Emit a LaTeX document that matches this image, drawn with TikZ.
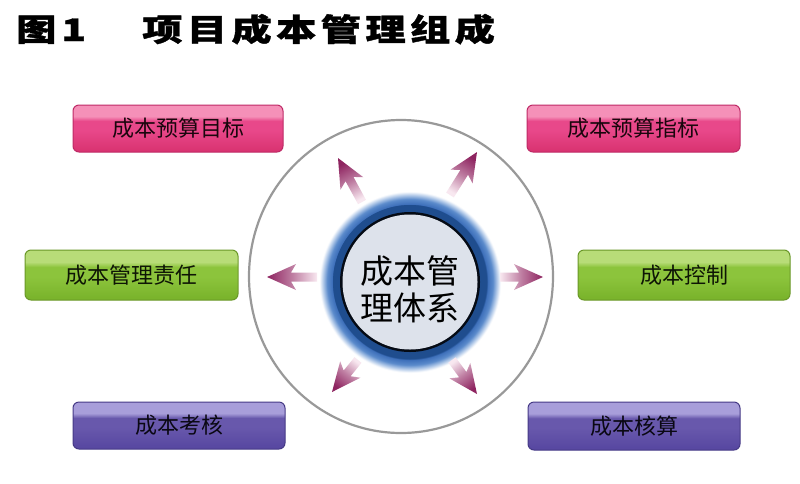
\documentclass[tikz,border=0pt]{standalone}
\usepackage{fontspec}
\usetikzlibrary{calc}
\newfontfamily\cjk{Noto Sans CJK SC}
\newfontfamily\titlefont[FakeStretch=1.3,LetterSpace=14,FakeBold=1.2]{Noto Sans CJK SC}
\definecolor{pinkD}{HTML}{D8326F}
\definecolor{pinkM}{HTML}{E8488A}
\definecolor{pinkL}{HTML}{F590B8}
\definecolor{pinkB}{HTML}{BE2A66}
\definecolor{greenD}{HTML}{78B22A}
\definecolor{greenM}{HTML}{8CC43C}
\definecolor{greenL}{HTML}{B8DC78}
\definecolor{greenB}{HTML}{6A9828}
\definecolor{purD}{HTML}{5646A0}
\definecolor{purM}{HTML}{6858AC}
\definecolor{purL}{HTML}{A89EDA}
\definecolor{purB}{HTML}{463A86}
\definecolor{arrHead}{HTML}{8E2460}
\definecolor{arrTail}{HTML}{F8E8F0}
\definecolor{ringnavy}{HTML}{1F4D8E}
\definecolor{ringmid}{HTML}{3A6CB8}
\definecolor{ringmid2}{HTML}{5A8ACB}
\definecolor{ringlight}{HTML}{B0C8E8}
\pgfdeclareverticalshading{pinkshade}{100bp}{color(0bp)=(pinkD); color(25bp)=(pinkD); color(48bp)=(pinkM); color(58bp)=(pinkM); color(63bp)=(pinkL); color(75bp)=(pinkL); color(100bp)=(pinkL)}
\pgfdeclareverticalshading{greenshade}{100bp}{color(0bp)=(greenD); color(25bp)=(greenD); color(48bp)=(greenM); color(58bp)=(greenM); color(63bp)=(greenL); color(75bp)=(greenL); color(100bp)=(greenL)}
\pgfdeclareverticalshading{purshade}{100bp}{color(0bp)=(purD); color(25bp)=(purD); color(48bp)=(purM); color(58bp)=(purM); color(63bp)=(purL); color(75bp)=(purL); color(100bp)=(purL)}
\pgfdeclareradialshading{ringshade}{\pgfpoint{0bp}{0bp}}{color(0bp)=(ringnavy); color(20.9bp)=(ringnavy); color(21bp)=(ringmid); color(22.5bp)=(ringmid2); color(23.6bp)=(ringlight); color(24.6bp)=(white); color(50bp)=(white)}
\tikzset{
  box/.style={rounded corners=6pt, line width=1pt, minimum height=47pt, inner sep=0pt, font=\cjk\fontsize{22}{24}\selectfont},
  pinkbox/.style={box, draw=pinkB, shading=pinkshade, text=black!88!pinkD},
  greenbox/.style={box, draw=greenB, shading=greenshade, text=black!88!greenD},
  purbox/.style={box, draw=purB, shading=purshade, text=black!88!purD},
  fatarrow/.style={top color=arrHead, bottom color=arrTail, middle color=arrHead!55!arrTail},
  titletext/.style={anchor=base west, inner sep=0pt, font=\titlefont\bfseries\fontsize{31}{34}\selectfont}
}
\newcommand\fatarr[3]{%
  \coordinate (fa-h) at ($(#2)!24pt!(#1)$);
  \coordinate (fa-b) at ($(#2)!29pt!(#1)$);
  \path[fatarrow, shading angle=#3]
    ($(#1)!4.5pt!90:(#2)$) -- ($(fa-h)!4.5pt!90:(#2)$) -- ($(fa-b)!13pt!90:(#2)$)
    -- (#2) -- ($(fa-b)!13pt!-90:(#2)$) -- ($(fa-h)!4.5pt!-90:(#2)$)
    -- ($(#1)!4.5pt!-90:(#2)$) -- cycle;
}
\begin{document}
\begin{tikzpicture}[x=1pt,y=-1pt]
\useasboundingbox (0,0) rectangle (800,483);
\fill[white] (0,0) rectangle (800,483);
% title
\node[titletext] (t1) at (16,41) {\spaceskip=5pt 图 1};
\node[titletext] (t2) at (142,41) {项目成本管理组成};
% big circle
\draw[line width=2.2pt, color=black!40] (401,276.5) ellipse [x radius=152, y radius=156.5];
% centre
\coordinate (c) at (410,282);
\shade[shading=ringshade] (c) circle [radius=92];
\fill[ringnavy] (c) circle [radius=77];
\fill[black!85!ringnavy] (c) circle [radius=70];
\node[circle, fill={rgb,255:red,221;green,226;blue,235}, minimum size=135pt, inner sep=0pt] (core) at (c) {};
\node[font=\cjk\fontsize{33}{37}\selectfont, align=center, inner sep=0pt] (ctext) at (410,289) {成本管\\理体系};
% arrows
\coordinate (a1t) at (362,202); \coordinate (a1p) at (338,158);
\coordinate (a2t) at (450,195); \coordinate (a2p) at (477,152);
\coordinate (a3t) at (317,277); \coordinate (a3p) at (267,277);
\coordinate (a4t) at (500,277); \coordinate (a4p) at (543,277);
\coordinate (a5t) at (358,360); \coordinate (a5p) at (332,392);
\coordinate (a6t) at (452,360); \coordinate (a6p) at (477,394);
\fatarr{a1t}{a1p}{28.6}
\fatarr{a2t}{a2p}{-32.1}
\fatarr{a3t}{a3p}{90}
\fatarr{a4t}{a4p}{-90}
\fatarr{a5t}{a5p}{140.9}
\fatarr{a6t}{a6p}{-143.7}
% boxes
\node[pinkbox, minimum width=210pt] (b1) at (178,128.5) {成本预算目标};
\node[pinkbox, minimum width=213pt] (b2) at (633.5,128.5) {成本预算指标};
\node[greenbox, minimum width=213pt, minimum height=50pt] (b3) at (131.5,275) {成本管理责任};
\node[greenbox, minimum width=212pt, minimum height=50pt] (b4) at (684,275) {成本控制};
\node[purbox, minimum width=212pt] (b5) at (179,425.5) {成本考核};
\node[purbox, minimum width=212pt, minimum height=48pt] (b6) at (634,426) {成本核算};
\end{tikzpicture}
\end{document}
